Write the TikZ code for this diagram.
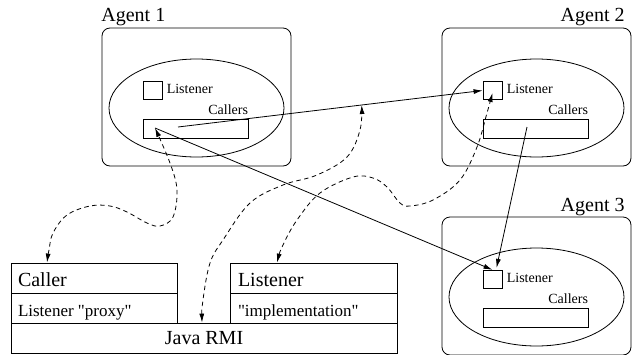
\documentclass[tikz,border=0pt]{standalone}
\usepackage{fontspec}
\setmainfont{Liberation Serif}[Ligatures=TeXOff]
\usetikzlibrary{arrows.meta,shapes.geometric,calc}

\tikzset{
  agentbox/.style={draw, rounded corners=8pt, minimum width=189pt, minimum height=138pt, inner sep=0pt},
  agentell/.style={draw, ellipse, minimum width=175pt, minimum height=98pt, inner sep=0pt},
  lisbox/.style={draw, minimum width=19pt, minimum height=18.5pt, inner sep=0pt},
  calbox/.style={draw, minimum width=105pt, minimum height=19pt, inner sep=0pt},
  lblsmall/.style={font=\fontsize{14}{16}\selectfont, inner sep=0pt},
  lblbig/.style={font=\fontsize{20}{24}\selectfont, inner sep=0pt},
  lblmid/.style={font=\fontsize{17}{20}\selectfont, inner sep=0pt},
  layer/.style={draw, minimum width=166pt, minimum height=30pt, inner sep=0pt},
  msg/.style={-{Latex[length=9pt,width=5pt]}},
  link/.style={{Latex[length=9pt,width=5pt]}-{Latex[length=9pt,width=5pt]}, dash pattern=on 4.5pt off 3.5pt},
}

% One agent: outer box, ellipse, listener square and callers bar
\newcommand\agentunit[3]{%
  \node[agentbox] (#1box) at (#2,#3) {};
  \node[agentell] (#1ell) at ($(#1box.center)+(0,11)$) {};
  \node[lisbox] (#1lis) at ($(#1box.center)+(-44,-6.5)$) {};
  \node[calbox] (#1cal) at ($(#1box.center)+(-1,31.5)$) {};
  \node[lblsmall, anchor=base west] (#1listxt) at ($(#1lis.east)+(4,2.5)$) {Listener};
  \node[lblsmall, anchor=base east] (#1caltxt) at ($(#1cal.north east)+(0,-4)$) {Callers};
}

\begin{document}
\begin{tikzpicture}[x=1pt, y=-1pt, line width=0.8pt]
  \useasboundingbox (0,0) rectangle (635,354);

  % agents
  \agentunit{a1}{196.5}{97}
  \agentunit{a2}{536.5}{97}
  \agentunit{a3}{536.5}{286}
  \node[lblbig, anchor=base west] (a1lbl) at (101,21) {Agent 1};
  \node[lblbig, anchor=base east] (a2lbl) at (625,21) {Agent 2};
  \node[lblbig, anchor=base east] (a3lbl) at (625,211) {Agent 3};

  % layered implementation
  \node[layer] (caller) at (94,278) {};
  \node[layer] (proxy) at (94,308) {};
  \node[layer, minimum width=167pt] (listener) at (313.5,278) {};
  \node[layer, minimum width=167pt] (impl) at (313.5,308) {};
  \node[layer, minimum width=386pt] (rmi) at (204,338) {};
  \node[lblbig, anchor=base west] (callertxt) at ($(caller.south west)+(7,-7)$) {Caller};
  \node[lblmid, anchor=base west] (proxytxt) at ($(proxy.south west)+(7,-7)$) {Listener "proxy"};
  \node[lblbig, anchor=base west] (listenertxt) at ($(listener.south west)+(8,-7)$) {Listener};
  \node[lblmid, anchor=base west] (impltxt) at ($(impl.south west)+(8,-7)$) {"implementation"};
  \node[lblbig, anchor=base] (rmitxt) at ($(rmi.south)+(0,-9)$) {Java RMI};

  % connector end points
  \coordinate (a1out) at ($(a1cal.center)+(-17.5,-1.5)$);
  \coordinate (a1in) at ($(a1cal.center)+(-40.5,-0.5)$);
  \coordinate (a2out) at ($(a2cal.center)+(-8.5,-1.5)$);
  \coordinate (a2in) at ($(a2lis.center)+(0,2.5)$);
  \coordinate (a3top) at ($(a3lis.north)+(4,-2)$);
  \coordinate (cin) at ($(caller.north)+(-47,0)$);
  \coordinate (rmitop) at ($(rmi.north)+(-2,0)$);
  \coordinate (listop) at ($(listener.north)+(-36.5,0)$);

  % remote calls
  \draw[msg] (a1out) -- coordinate[pos=0.603] (hit) (a2lis.west);
  \draw[msg] (a1in) -- (a3lis.north);
  \draw[msg] (a2out) -- (a3top);

  % correspondences with the layers
  \draw[link] plot[smooth, tension=0.6] coordinates {(cin) (49,250) (53,233) (67,215) (90,206) (110,206) (127,212) (147,223) (160,226) (173,217) (177,190) (170,163) (a1in)};
  \draw[link] plot[smooth, tension=0.6] coordinates {(rmitop) (203,300) (210,263) (223,240) (250,203) (283,185) (317,175) (347,157) (360,130) (hit)};
  \draw[link] plot[smooth, tension=0.6] coordinates {(listop) (283,245) (297,220) (320,193) (353,177) (373,178) (387,187) (400,203) (410,206) (433,200) (460,180) (477,147) (487,113) (a2in)};
\end{tikzpicture}
\end{document}
